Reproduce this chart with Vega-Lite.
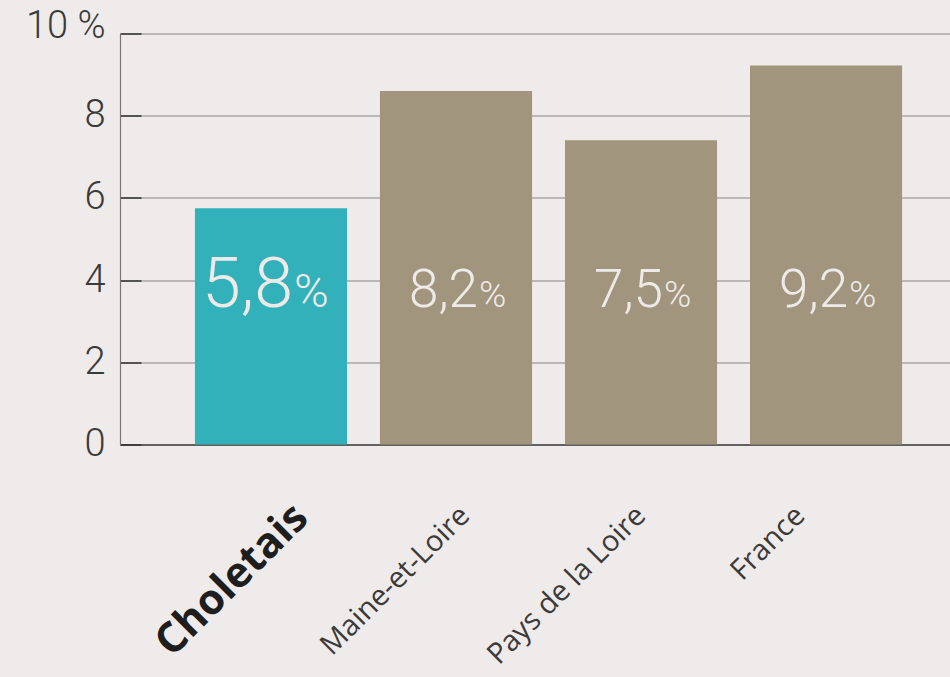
{
  "$schema": "https://vega.github.io/schema/vega-lite/v6.json",
  "autosize": {"type": "none"},
  "width": 830,
  "height": 411,
  "padding": {"left": 120, "top": 33.5, "right": 0, "bottom": 232.5},
  "background": "#efebea",
  "config": {
    "view": {"stroke": null},
    "font": "Roboto"
  },
  "data": {
    "values": [
      {"region": "Choletais", "value": 5.75, "label": "5,8"},
      {"region": "Maine-et-Loire", "value": 8.6, "label": "8,2"},
      {"region": "Pays de la Loire", "value": 7.4, "label": "7,5"},
      {"region": "France", "value": 9.22, "label": "9,2"}
    ]
  },
  "encoding": {
    "x": {
      "field": "region",
      "type": "nominal",
      "sort": null,
      "scale": {"paddingInner": 0.178, "paddingOuter": 0.332, "align": 0.61},
      "axis": {
        "title": null,
        "ticks": false,
        "tickSize": 0,
        "grid": false,
        "domainColor": "#444444",
        "domainWidth": 1.5,
        "labelAngle": -45,
        "labelAlign": "right",
        "labelBaseline": "middle",
        "labelPadding": 66,
        "labelLimit": 0,
        "labelFont": "Open Sans",
        "labelFontSize": {"condition": {"test": "datum.value === 'Choletais'", "value": 42}, "value": 29},
        "labelFontWeight": {"condition": {"test": "datum.value === 'Choletais'", "value": "bold"}, "value": "normal"},
        "labelColor": {"condition": {"test": "datum.value === 'Choletais'", "value": "#1e1e1e"}, "value": "#3a3a3a"},
        "labelOffset": {"condition": [
          {"test": "datum.value === 'Choletais'", "value": 30},
          {"test": "datum.value === 'Maine-et-Loire'", "value": 9},
          {"test": "datum.value === 'France'", "value": -26}
        ], "value": 0}
      }
    }
  },
  "layer": [
    {
      "mark": {"type": "bar"},
      "encoding": {
        "y": {
          "field": "value",
          "type": "quantitative",
          "scale": {"domain": [0, 10], "nice": false},
          "axis": {
            "title": null,
            "values": [0, 2, 4, 6, 8, 10],
            "labelExpr": "datum.value === 10 ? '10 %' : datum.label",
            "labelFlush": false,
            "labelOffset": {"condition": {"test": "datum.value === 10", "value": -7}, "value": 0},
            "labelFontSize": 38,
            "labelFontWeight": 300,
            "labelColor": "#3a3a3a",
            "labelPadding": 36,
            "tickSize": -21,
            "tickColor": "#333333",
            "tickWidth": 1.5,
            "domainColor": "#777777",
            "domainWidth": 1.2,
            "gridColor": "#aaa7a7",
            "gridWidth": 1.5
          }
        },
        "color": {
          "condition": {"test": "datum.region === 'Choletais'", "value": "#33b1bb"},
          "value": "#a1957d"
        }
      }
    },
    {
      "mark": {"type": "text", "align": "right", "baseline": "alphabetic", "dx": 22, "fontWeight": 300, "color": "#eeeae8"},
      "encoding": {
        "y": {"datum": 3.35, "type": "quantitative"},
        "text": {"field": "label"},
        "size": {"condition": {"test": "datum.region === 'Choletais'", "value": 70}, "value": 53}
      }
    },
    {
      "mark": {"type": "text", "align": "left", "baseline": "alphabetic", "dx": 23, "fontWeight": 300, "color": "#eeeae8"},
      "encoding": {
        "y": {"datum": 3.35, "type": "quantitative"},
        "text": {"value": "%"},
        "size": {"condition": {"test": "datum.region === 'Choletais'", "value": 47}, "value": 37}
      }
    }
  ]
}
